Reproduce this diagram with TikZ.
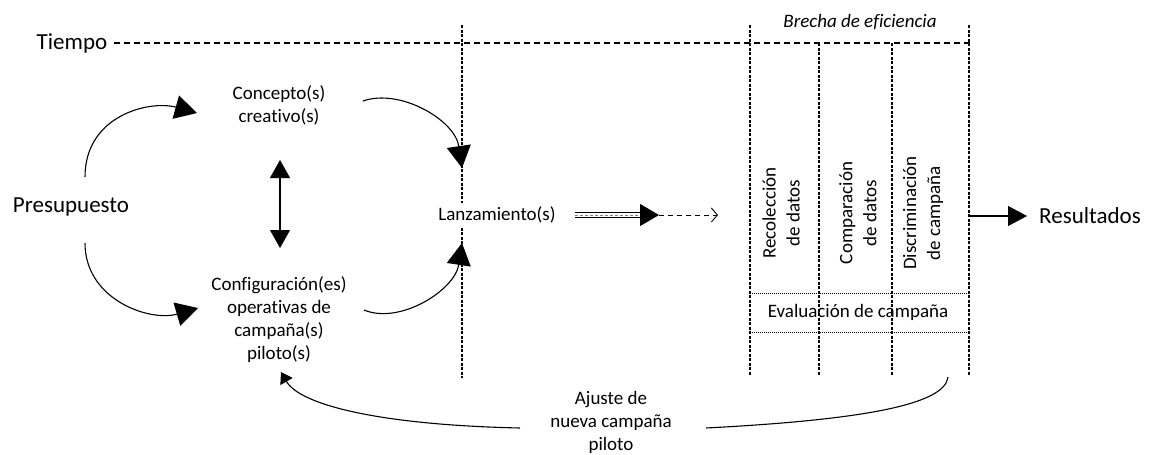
\documentclass[tikz,border=0pt]{standalone}
\usepackage{fontspec}
\setmainfont{Carlito}[Ligatures={NoCommon}]
\usetikzlibrary{arrows.meta}

\begin{document}
\begin{tikzpicture}[x=1pt,y=-1pt,
  txt/.style={font=\fontsize{19}{23}\selectfont, align=center, inner sep=0pt},
  big/.style={font=\fontsize{23}{27}\selectfont, inner sep=0pt},
  vtxt/.style={font=\fontsize{19}{24}\selectfont, align=center, inner sep=0pt, rotate=90},
  flow/.style={line width=1.1pt, -{Triangle[length=22pt,width=24pt]}},
  plain/.style={line width=1.1pt},
  timeline/.style={line width=1.2pt, dash pattern=on 6pt off 4pt},
  gridline/.style={line width=1.05pt, dash pattern=on 3pt off 1.5pt},
  fineline/.style={line width=1pt, dash pattern=on 1pt off 1pt},
]
\useasboundingbox (0,0) rectangle (1152,455);

% time axis
\node[big] (tiempo) at (72,43) {Tiempo};
\coordinate (tEnd) at (970,43);
\draw[timeline] ([xshift=7pt]tiempo.east) -- (tEnd);

% launch boundary and efficiency-gap columns
\draw[gridline] (462,25) -- (462,378);
\draw[gridline] (750,25) -- (750,375);
\draw[gridline] (969,25) -- (969,375);
\draw[gridline] (819,43) -- (819,375);
\draw[gridline] (892,43) -- (892,375);
\draw[fineline] (750,293) -- (969,293);
\draw[fineline] (750,332) -- (969,332);

% labels
\node[big] (pres) at (71,207) {Presupuesto};
\node[txt] (conc) at (279,105) {Concepto(s)\\creativo(s)};
\node[txt] (conf) at (279,320) {Configuración(es)\\operativas de\\campaña(s)\\piloto(s)};
\node[txt, fill=white, inner sep=4pt] (lanz) at (497,215) {Lanzamiento(s)};
\node[big] (res) at (1090,216) {Resultados};
\node[txt, font=\fontsize{19}{23}\selectfont\itshape] (brecha) at (860,22) {Brecha de eficiencia};
\node[txt] (eval) at (858,312) {Evaluación de campaña};
\node[vtxt] (rec) at (781,213) {Recolección\\de datos};
\node[vtxt] (comp) at (858,213) {Comparación\\de datos};
\node[vtxt] (disc) at (923,213) {Discriminación\\de campaña};
\node[txt] (ajuste) at (611,422) {Ajuste de\\nueva campaña\\piloto};

% budget feeds concept and configuration
\coordinate (p1s) at (85,177);  \coordinate (p1e) at (197,113);
\coordinate (p2s) at (85,243);  \coordinate (p2e) at (198,308);
\draw[flow] (p1s) .. controls (85,115) and (150,100) .. (p1e);
\draw[flow] (p2s) .. controls (85,300) and (150,322) .. (p2e);

% concept <-> configuration
\coordinate (d1) at (280,160); \coordinate (d2) at (280,248);
\draw[line width=1.2pt, {Triangle[length=18pt,width=20pt]}-{Triangle[length=18pt,width=20pt]}] (d1) -- (d2);

% both lead to launch
\coordinate (c1s) at (363,101); \coordinate (c1e) at (462,168);
\coordinate (c2s) at (364,310); \coordinate (c2e) at (462,243);
\draw[flow] (c1s) .. controls (400,88) and (455,120) .. (c1e);
\draw[flow] (c2s) .. controls (400,325) and (455,290) .. (c2e);

% launch output
\coordinate (l1) at (575,215); \coordinate (l2) at (640,215);
\coordinate (l3) at (659,215); \coordinate (l4) at (718,215);
\draw[line width=1pt, double distance=4pt] (l1) -- (l2);
\draw[line width=0.6pt, gray, dash pattern=on 3pt off 2pt] (l1) -- (l2);
\draw[line width=1pt, -{Triangle[length=19pt,width=22pt]}] (l2) -- (l3);
\draw[line width=0.9pt, dash pattern=on 5pt off 4pt, -{Straight Barb[length=6pt,width=14pt]}] (l3) -- (l4);

% results
\coordinate (r1) at (969,216); \coordinate (r2) at (1027,216);
\draw[line width=1.1pt, -{Triangle[length=19pt,width=20pt]}] (r1) -- (r2);

% feedback loop
\coordinate (b1) at (948,377); \coordinate (b2) at (706,428);
\coordinate (b3) at (520,428); \coordinate (b4) at (281,372);
\draw[plain] (b1) .. controls (945,405) and (860,420) .. (b2);
\draw[plain, -{Triangle[length=11pt,width=14pt]}] (b3) .. controls (380,425) and (300,405) .. (b4);
\end{tikzpicture}
\end{document}
